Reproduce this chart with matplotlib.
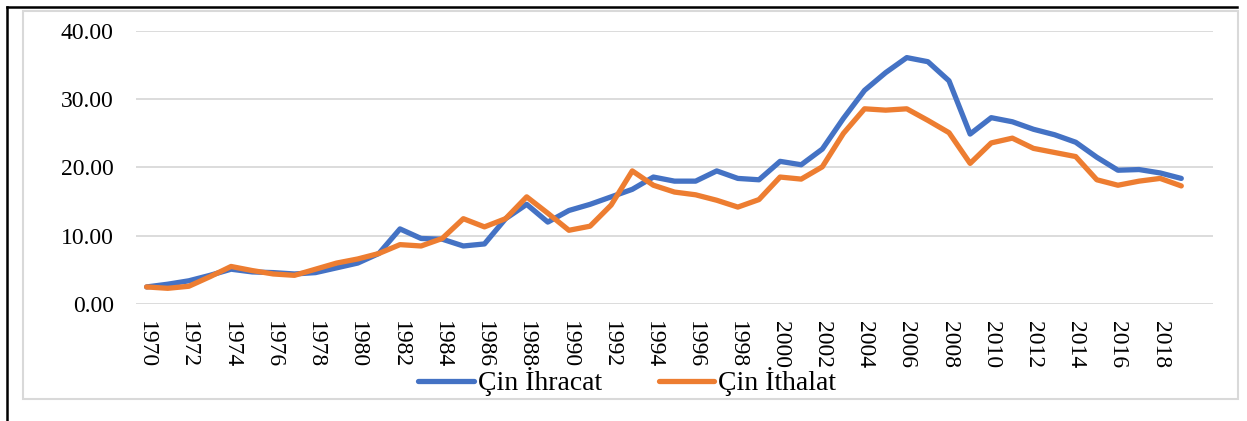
import numpy as np
import matplotlib.pyplot as plt
from matplotlib.lines import Line2D
from matplotlib.patches import Rectangle

# values
years = np.arange(1970, 2020)
ihracat = [2.5, 2.9, 3.4, 4.2, 5.1, 4.7, 4.6, 4.4, 4.6, 5.3,
           6.0, 7.4, 11.0, 9.6, 9.5, 8.5, 8.8, 12.5, 14.6, 12.0,
           13.7, 14.6, 15.7, 16.8, 18.6, 18.0, 18.0, 19.5, 18.4, 18.2,
           20.9, 20.4, 22.7, 27.2, 31.3, 33.9, 36.1, 35.5, 32.7, 24.9,
           27.3, 26.7, 25.6, 24.8, 23.7, 21.5, 19.6, 19.7, 19.2, 18.4]
ithalat = [2.5, 2.3, 2.6, 4.0, 5.5, 4.9, 4.4, 4.2, 5.1, 6.0,
           6.6, 7.4, 8.7, 8.5, 9.6, 12.5, 11.3, 12.5, 15.7, 13.3,
           10.8, 11.4, 14.5, 19.5, 17.4, 16.4, 16.0, 15.2, 14.2, 15.3,
           18.6, 18.3, 20.1, 25.0, 28.6, 28.4, 28.6, 26.9, 25.1, 20.6,
           23.6, 24.3, 22.8, 22.2, 21.6, 18.2, 17.4, 18.0, 18.4, 17.3]
series_names = ['Çin İhracat', 'Çin İthalat']
yticks = [0, 10, 20, 30, 40]

plt.rcParams['font.family'] = ['Liberation Serif', 'DejaVu Serif']

fig = plt.figure(figsize=(12.47, 4.21), dpi=100)
ax = fig.add_axes([0.1091, 0.2779, 0.8636, 0.6485])

ax.plot(years, ihracat, color='#4472C4', lw=3.8, solid_joinstyle='round',
        solid_capstyle='round', label=series_names[0], zorder=3)
ax.plot(years, ithalat, color='#ED7D31', lw=3.8, solid_joinstyle='round',
        solid_capstyle='round', label=series_names[1], zorder=3)

ax.set_xlim(1969.5, 2020.5)
ax.set_ylim(0, 40)
ax.set_yticks(yticks)
ax.set_yticklabels([f'{v:.2f}' for v in yticks], fontsize=17)
ax.set_xticks(years[::2])
ax.set_xticklabels([str(y) for y in years[::2]], rotation=-90, fontsize=17)
ax.tick_params(axis='both', length=0)
ax.tick_params(axis='x', pad=12)
ax.tick_params(axis='y', pad=16)
ax.grid(axis='y', color='#D9D9D9', lw=1.3)
ax.set_axisbelow(True)
for s in ax.spines.values():
    s.set_visible(False)

ax.legend(loc='center', bbox_to_anchor=(0.503, 0.093),
          bbox_transform=fig.transFigure, ncol=2, frameon=False,
          fontsize=20, handlelength=2.0, handletextpad=0.15,
          columnspacing=2.05)

# grey chart frame and black outer lines
fig.add_artist(Rectangle((23 / 1247, 1 - 399 / 421), (1238 - 23) / 1247,
                         (399 - 11) / 421, transform=fig.transFigure,
                         fill=False, edgecolor='#D9D9D9', lw=1.5))
fig.add_artist(Line2D([7 / 1247, 1237 / 1247], [1 - 7 / 421, 1 - 7 / 421],
                      transform=fig.transFigure, color='black', lw=1.8))
fig.add_artist(Line2D([7 / 1247, 7 / 1247], [1 - 7 / 421, 0],
                      transform=fig.transFigure, color='black', lw=1.8))

fig.savefig('out.png', dpi=100)
